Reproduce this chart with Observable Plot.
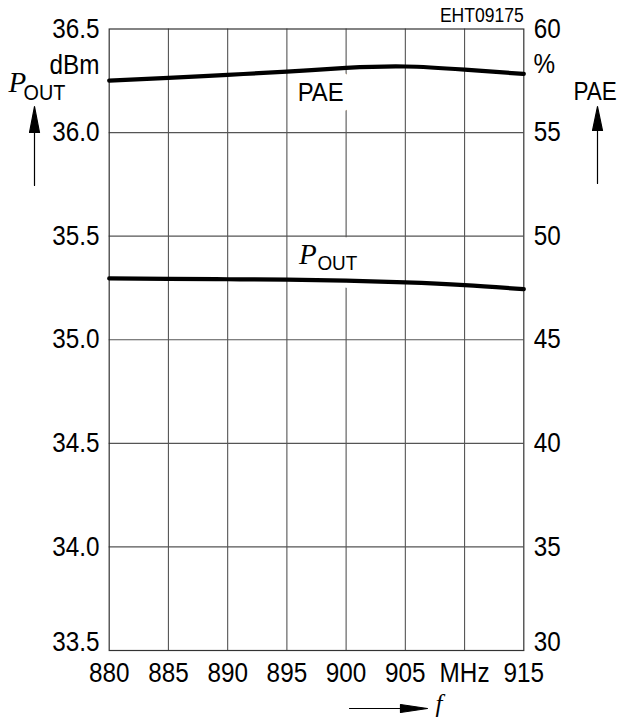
<!DOCTYPE html>
<html>
<head>
<meta charset="utf-8">
<script src="https://cdn.jsdelivr.net/npm/d3@7"></script>
<script src="https://cdn.jsdelivr.net/npm/@observablehq/plot@0.6"></script>
<style>
  body { margin: 0; background: #fff; }
  svg { display: block; }
</style>
</head>
<body>
<div id="chart"></div>
<script>
// Output power and power-added efficiency versus frequency
const freq = [880, 885, 890, 895, 900, 905, 910, 915];
const pout = [35.296, 35.294, 35.292, 35.290, 35.285, 35.277, 35.264, 35.244]; // dBm
const pae = [57.51, 57.64, 57.79, 57.94, 58.12, 58.19, 58.04, 57.83];          // %

const xTicks = [880, 885, 890, 895, 900, 905, 910, 915];
const xTickLabels = ["880", "885", "890", "895", "900", "905", "MHz", "915"];
const poutTicks = [33.5, 34.0, 34.5, 35.0, 35.5, 36.0, 36.5];
const paeTicks = [30, 35, 40, 45, 50, 55, 60];
const docId = "EHT09175";

// PAE shares the vertical space: 30 % .. 60 % spans 33.5 .. 36.5 dBm
const paeToY = p => poutTicks[0] + (p - paeTicks[0]) * (poutTicks[poutTicks.length - 1] - poutTicks[0]) / (paeTicks[paeTicks.length - 1] - paeTicks[0]);

const poutRows = freq.map((f, i) => ({f, y: pout[i]}));
const paeRows = freq.map((f, i) => ({f, y: paeToY(pae[i])}));

const SANS = "Liberation Sans, Arial, Helvetica, sans-serif";
const SERIF = "Liberation Serif, Times New Roman, serif";
const FS = 27;

// Filled-head arrow drawn as a vector shape
function arrowShape(head) {
  return {
    draw(context, l, r) {
      context.moveTo(0, 0);
      context.lineTo(0, -l + head);
      context.moveTo(-r, -l + head);
      context.lineTo(0, -l);
      context.lineTo(r, -l + head);
      context.closePath();
    }
  };
}

const tickFmtX = d => xTickLabels[xTicks.indexOf(d)];
const tickFmtPae = d => String(paeTicks[poutTicks.indexOf(d)]);

const chart = Plot.plot({
  width: 621,
  height: 719,
  marginLeft: 108.7,
  marginRight: 97.7,
  marginTop: 28.5,
  marginBottom: 69,
  style: {fontFamily: SANS, background: "#fff", color: "#000"},
  x: {domain: [880, 915]},
  y: {domain: [33.5, 36.5]},
  marks: [
    Plot.gridX(xTicks.slice(1, -1), {stroke: "#555", strokeOpacity: 1, strokeWidth: 1.1}),

    // series labels with a white knock-out behind them
    Plot.text(poutRows.filter(d => d.f === 900), {
      x: "f", y: "y", text: () => "OUT", textAnchor: "start", lineAnchor: "bottom",
      dx: -28.7, dy: -10.3, fontSize: 21, fill: "black",
      stroke: "white", strokeWidth: 37, paintOrder: "stroke"
    }),
    Plot.text(paeRows.filter(d => d.f === 900), {
      x: "f", y: "y", text: () => "PAE", textAnchor: "end", lineAnchor: "bottom",
      dx: -2.5, dy: 33.4, fontSize: 26.5, fill: "black",
      stroke: "white", strokeWidth: 20, paintOrder: "stroke"
    }),
    Plot.text(poutRows.filter(d => d.f === 900), {
      x: "f", y: "y", text: () => "P", textAnchor: "start", lineAnchor: "bottom",
      dx: -47, dy: -17, fontSize: 29, fontFamily: SERIF, fontStyle: "italic", fill: "black"
    }),

    Plot.gridY(poutTicks.slice(1, -1), {stroke: "#555", strokeOpacity: 1, strokeWidth: 1.1}),
    Plot.frame({stroke: "#333", strokeWidth: 1.2}),

    Plot.line(paeRows, {x: "f", y: "y", curve: "natural", stroke: "black", strokeWidth: 4.2}),
    Plot.line(poutRows, {x: "f", y: "y", curve: "natural", stroke: "black", strokeWidth: 4.2}),

    // axes
    Plot.axisX(xTicks, {tickSize: 0, tickPadding: 12, tickFormat: tickFmtX, fontSize: FS, label: null}),
    Plot.axisY(poutTicks.slice(1), {anchor: "left", tickSize: 0, tickPadding: 9.7, tickFormat: d => d.toFixed(1), fontSize: FS, label: null}),
    Plot.axisY(poutTicks.slice(0, 1), {anchor: "left", tickSize: 0, tickPadding: 9.7, dy: -8, tickFormat: d => d.toFixed(1), fontSize: FS, label: null}),
    Plot.axisY(poutTicks.slice(1), {anchor: "right", tickSize: 0, tickPadding: 10, tickFormat: tickFmtPae, fontSize: FS, label: null}),
    Plot.axisY(poutTicks.slice(0, 1), {anchor: "right", tickSize: 0, tickPadding: 10, dy: -8, tickFormat: tickFmtPae, fontSize: FS, label: null}),

    // units
    Plot.text(["dBm"], {frameAnchor: "top-left", text: d => d, textAnchor: "end", lineAnchor: "middle", dx: -9.7, dy: 36, fontSize: FS}),
    Plot.text(["%"], {frameAnchor: "top-right", text: d => d, textAnchor: "start", lineAnchor: "middle", dx: 9.7, dy: 35, fontSize: FS}),

    // left axis title P_OUT with arrow
    Plot.text(["P"], {frameAnchor: "top-left", text: d => d, textAnchor: "start", lineAnchor: "bottom", dx: -100.7, dy: 62.5, fontSize: 29, fontFamily: SERIF, fontStyle: "italic"}),
    Plot.text(["OUT"], {frameAnchor: "top-left", text: d => d, textAnchor: "start", lineAnchor: "bottom", dx: -85.7, dy: 70.5, fontSize: 22}),
    Plot.vector([0], {frameAnchor: "top-left", dx: -74.7, dy: 156.5, length: 79, rotate: 0, anchor: "start", shape: arrowShape(26), r: 5, fill: "black", stroke: "black", strokeWidth: 1.2}),

    // right axis title PAE with arrow
    Plot.text(["PAE"], {frameAnchor: "top-right", text: d => d, textAnchor: "start", lineAnchor: "bottom", dx: 49.7, dy: 70.5, fontSize: 25}),
    Plot.vector([0], {frameAnchor: "top-right", dx: 73.7, dy: 154.5, length: 77, rotate: 0, anchor: "start", shape: arrowShape(24), r: 5, fill: "black", stroke: "black", strokeWidth: 1.2}),

    // frequency arrow
    Plot.vector([0], {frameAnchor: "bottom-left", dx: 240.3, dy: 58, length: 78, rotate: 90, anchor: "start", shape: arrowShape(27), r: 4, fill: "black", stroke: "black", strokeWidth: 1.2}),
    Plot.text(["f"], {frameAnchor: "bottom-left", text: d => d, textAnchor: "start", lineAnchor: "bottom", dx: 326.3, dy: 61, fontSize: 25, fontFamily: SERIF, fontStyle: "italic"}),

    // drawing number
    Plot.text([docId], {frameAnchor: "top-right", text: d => d, textAnchor: "end", lineAnchor: "bottom", dy: -6.8, fontSize: 19.5})
  ]
});

// narrow the sans-serif lettering
chart.querySelectorAll("text").forEach(t => {
  const g = t.closest("[font-family]");
  const fam = g ? g.getAttribute("font-family") : "";
  if (/Serif/.test(fam)) return;
  const tr = t.getAttribute("transform") || "";
  t.setAttribute("transform", (tr + " scale(0.9,1)").trim());
});

document.getElementById("chart").appendChild(chart);
</script>
</body>
</html>
